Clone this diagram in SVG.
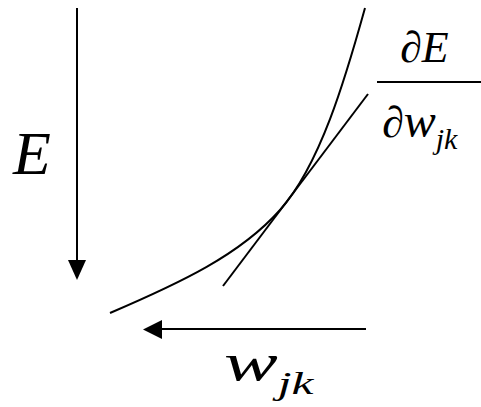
<svg xmlns="http://www.w3.org/2000/svg" width="481" height="407" viewBox="0 0 481 407">
<defs>
<path id="ah" d="M-9,-10 L-9,10 L11,0 Z" fill="#000"/>
</defs>
<line x1="77" y1="8" x2="77" y2="262" stroke="#000" stroke-width="2"/>
<path d="M68,260 L86,260 L77,280 Z" fill="#000"/>
<line x1="366" y1="329" x2="160" y2="329" stroke="#000" stroke-width="2"/>
<path d="M162,320 L162,339 L143,329.5 Z" fill="#000"/>
<path d="M110,313 C180,283 240,255 280,210 C320,165 345,80 365,8" stroke="#000" stroke-width="2" fill="none"/>
<line x1="223" y1="286" x2="368" y2="94" stroke="#000" stroke-width="2"/>
<line x1="377" y1="82" x2="481" y2="82" stroke="#000" stroke-width="2"/>
<text id="label-E" x="13" y="174" font-size="62" font-family="Liberation Serif" font-style="italic">E</text>
<text id="num-d" x="400" y="62" font-size="44" font-family="Liberation Serif">∂<tspan font-family="Liberation Serif" font-style="italic">E</tspan></text>
<text id="den-d" x="382" y="137" font-size="44" font-family="Liberation Serif">∂<tspan font-family="Liberation Serif" font-style="italic" font-size="48">w</tspan><tspan font-family="Liberation Serif" font-style="italic" font-size="30" dy="12">jk</tspan></text>
<text id="label-w" transform="translate(224,380) scale(1.3,0.85)" font-size="62" font-family="Liberation Serif" font-style="italic">w<tspan font-family="Liberation Serif" font-size="38" dy="16">jk</tspan></text>
</svg>
